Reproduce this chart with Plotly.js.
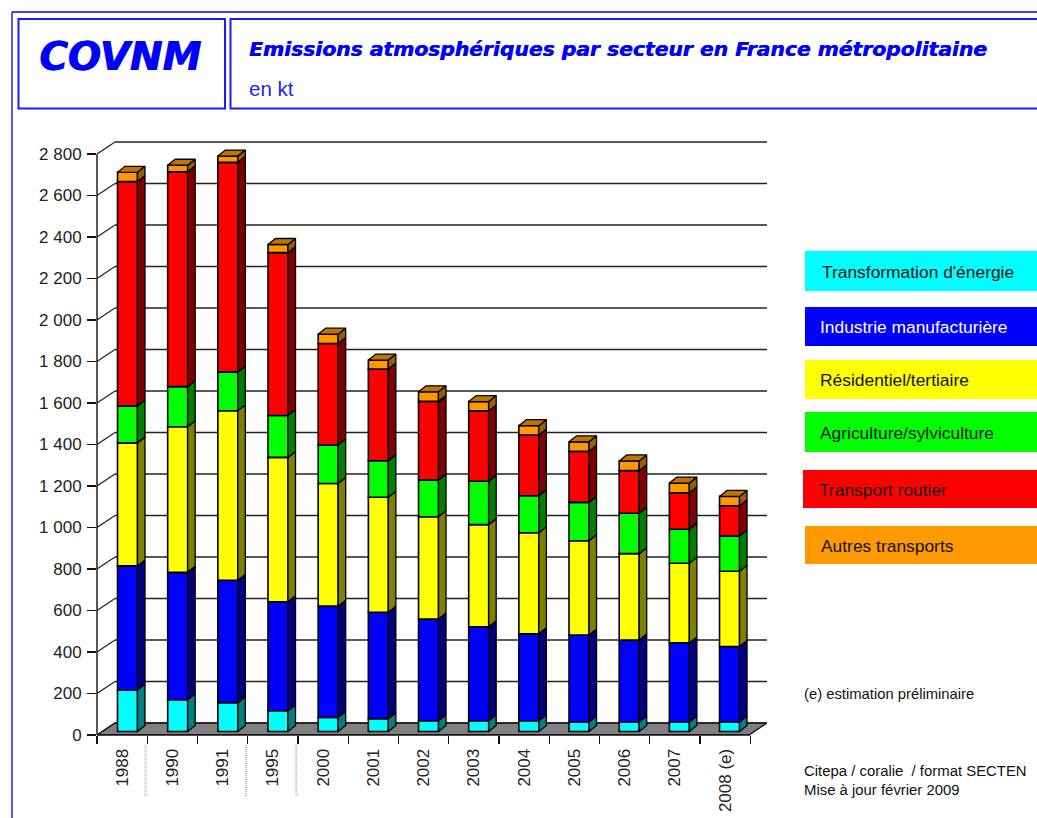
<!DOCTYPE html>
<html>
<head>
<meta charset="utf-8">
<script src="https://cdn.plot.ly/plotly-3.0.1.min.js"></script>
<style>html,body{margin:0;padding:0;background:#fff;overflow:hidden}</style>
</head>
<body>
<div id="chart" style="width:1037px;height:818px"></div>
<script>
const years = ["1988","1990","1991","1995","2000","2001","2002","2003","2004","2005","2006","2007","2008 (e)"];
const energie   = [200,153,139,100,68,62,52,52,52,46,46,46,46];
const industrie = [598,614,590,525,536,513,490,453,419,419,395,381,363];
const residentiel = [593,702,817,696,591,554,493,492,487,454,416,384,363];
const agriculture = [178,193,186,202,186,176,177,209,178,185,195,164,170];
const routier   = [1081,1035,1011,785,489,442,379,339,293,246,205,175,146];
const autres    = [45,32,30,39,45,43,46,45,45,46,47,47,45];
const yTicks = [0,200,400,600,800,1000,1200,1400,1600,1800,2000,2200,2400,2600,2800];
const yTickText = ["0","200","400","600","800","1 000","1 200","1 400","1 600","1 800","2 000","2 200","2 400","2 600","2 800"];
const sectorNames = ["Transformation d'énergie","Industrie manufacturière","Résidentiel/tertiaire","Agriculture/sylviculture","Transport routier","Autres transports"];
const sectorValues = [energie,industrie,residentiel,agriculture,routier,autres];
const frontColors = ["#00ffff","#0000ff","#ffff00","#00ff00","#ff0000","#ff9900"];
const sideColors  = ["#008080","#000080","#808000","#008000","#800000","#996000"];
const topColor = "#bf7400";

// page geometry
const W = 1037, H = 818, L = 97, PW = 670, T = 133, PH = 602;
const pxPerCat = 50.25, pxPerKt = 0.2075;
const xr = [-0.5, -0.5 + PW / pxPerCat], yr = [0, PH / pxPerKt];
const px = v => (v - L) / PW;
const py = v => (T + PH - v) / PH;
const wallDx = 18 / pxPerCat, wallDy = 12 / pxPerKt;
const barDx = 7.5 / pxPerCat, barDy = 6 / pxPerKt;
const barW = 20 / pxPerCat, barShift = 0.107, barStep = 0.9984, barBase = 3.5 / pxPerKt;
const idx = years.map((_, i) => i);
const barX = idx.map(i => i * barStep + barShift);

const traces = [];
const sides = [];
let cum = years.map(() => barBase);
sectorValues.forEach((vals, s) => {
  const base = cum.slice();
  traces.push({type:'bar', name:sectorNames[s], x:barX, y:vals, base:base, width:barW,
    marker:{color:frontColors[s], line:{color:'#000', width:1.6}}, hoverinfo:'name+y', showlegend:false});
  const sx = [], sy = [];
  idx.forEach(i => {
    const r = barX[i] + barW / 2, b = base[i], t = b + vals[i];
    sx.push(r, r + barDx, r + barDx, r, r, null);
    sy.push(b, b + barDy, t + barDy, t, b, null);
  });
  sides.push({type:'scatter', mode:'lines', x:sx, y:sy, fill:'toself', fillcolor:sideColors[s],
    line:{color:'#000', width:1.3}, hoverinfo:'skip', showlegend:false});
  cum = cum.map((c, i) => c + vals[i]);
});
const tx = [], ty = [];
idx.forEach(i => {
  const l = barX[i] - barW / 2, r = barX[i] + barW / 2, t = cum[i];
  tx.push(l, r, r + barDx, l + barDx, l, null);
  ty.push(t, t, t + barDy, t + barDy, t, null);
});
sides.push({type:'scatter', mode:'lines', x:tx, y:ty, fill:'toself', fillcolor:topColor,
  line:{color:'#000', width:1.3}, hoverinfo:'skip', showlegend:false});

const shapes = [];
// floor
shapes.push({type:'path', layer:'below', xref:'x', yref:'y',
  path:`M ${xr[0]} 0 L ${xr[0]+wallDx} ${wallDy} L ${xr[1]} ${wallDy} L ${xr[1]-wallDx} 0 Z`,
  fillcolor:'#808080', line:{color:'#111', width:1.4}});
// back wall grid and left-wall slants
yTicks.forEach(v => {
  shapes.push({type:'line', layer:'below', xref:'x', yref:'y', x0:xr[0]+wallDx, x1:xr[1], y0:v+wallDy, y1:v+wallDy,
    line:{color:'#222', width:1.4}});
  shapes.push({type:'line', layer:'below', xref:'x', yref:'y', x0:xr[0], x1:xr[0]+wallDx, y0:v, y1:v+wallDy,
    line:{color:'#222', width:1.2}});
});
// axis lines
shapes.push({type:'line', xref:'paper', yref:'y', x0:0, x1:0, y0:0, y1:2800, layer:'above', line:{color:'#111', width:1.4}});
shapes.push({type:'line', xref:'x', yref:'paper', x0:xr[0], x1:12.5, y0:0, y1:0, layer:'above', line:{color:'#111', width:1.6}});
// dotted separators below some ticks
[0.5, 2.5, 3.5].forEach(x => {
  shapes.push({type:'line', xref:'x', yref:'paper', x0:x-0.035, x1:x-0.035, y0:py(745), y1:py(796), line:{color:'#bbbbbb', width:2, dash:'1px,1px'}});
});
// frames
const blue = '#0000ff', blue2 = '#1a1aff';
shapes.push({type:'line', xref:'paper', yref:'paper', x0:px(12), x1:px(12), y0:py(12), y1:py(818), line:{color:blue, width:1.3}});
shapes.push({type:'line', xref:'paper', yref:'paper', x0:px(12), x1:px(1037), y0:py(12), y1:py(12), line:{color:blue, width:1.3}});
shapes.push({type:'rect', xref:'paper', yref:'paper', x0:px(18.5), x1:px(225), y0:py(19), y1:py(108.5), line:{color:blue2, width:2}});
shapes.push({type:'rect', xref:'paper', yref:'paper', x0:px(230.5), x1:px(1045), y0:py(19), y1:py(108.5), line:{color:blue2, width:2}});
// legend boxes
const legendTop  = [251,307,360,412,470,526];
const legendBot  = [291,346,399,452,508,564];
const legendLeft = [805,805,805,805,803,805];
const legendTextX = [820,818,818,818,817,819];
const legendTextColor = ['#111','#fff','#111','#111','#111','#111'];
const annotations = [];
const note = (x, y, text, font, anchor) => annotations.push({xref:'paper', yref:'paper', x:px(x), y:py(y), text:text, showarrow:false,
  xanchor:anchor||'left', yanchor:'middle', align:'left', font:font});
sectorNames.forEach((n, i) => {
  shapes.push({type:'rect', xref:'paper', yref:'paper', x0:px(legendLeft[i]), x1:px(1037), y0:py(legendTop[i]), y1:py(legendBot[i]),
    fillcolor:frontColors[i], line:{width:0}});
  note(legendTextX[i], (legendTop[i]+legendBot[i])/2 + 0.5, n, {family:'Liberation Sans', size:17.4, color:legendTextColor[i]});
});
note(37, 56, 'COVNM', {family:'DejaVu Sans', size:39, color:'#0000ff', weight:'bold', style:'italic', shadow:'1px 0 0 #0000ff'});
note(247, 49, 'Emissions atmosphériques par secteur en France métropolitaine', {family:'DejaVu Sans', size:20.3, color:'#0000ff', weight:'bold', style:'italic', shadow:'0.6px 0 0 #0000ff'});
note(247, 89, 'en kt', {family:'Liberation Sans', size:20.5, color:'#2222ff'});
note(802, 694, '(e) estimation préliminaire', {family:'Liberation Sans', size:14.8, color:'#111'});
note(802, 771, 'Citepa / coralie  / format SECTEN', {family:'Liberation Sans', size:14.9, color:'#111'});
note(802, 790, 'Mise à jour février 2009', {family:'Liberation Sans', size:14.9, color:'#111'});

const layout = {
  width:W, height:H, autosize:false,
  margin:{l:L, r:W-L-PW, t:T, b:H-T-PH, pad:0},
  paper_bgcolor:'#fff', plot_bgcolor:'#fff',
  barmode:'overlay', showlegend:false, hovermode:'closest',
  font:{family:'Liberation Sans', color:'#222'},
  xaxis:{type:'linear', range:xr, tickmode:'array', tickvals:idx, ticktext:years, tickangle:-90,
    ticks:'outside', ticklen:6, tickcolor:'rgba(0,0,0,0)', showgrid:false, zeroline:false, showline:false,
    tickfont:{family:'Liberation Sans', size:17, color:'#222'},
    minor:{tick0:-0.5, dtick:1, ticks:'outside', ticklen:8, tickwidth:1.3, tickcolor:'#111', showgrid:false}},
  yaxis:{type:'linear', range:yr, tickmode:'array', tickvals:yTicks, ticktext:yTickText,
    ticks:'outside', ticklen:9, tickwidth:1.3, tickcolor:'#111', showgrid:false, zeroline:false, showline:false,
    ticklabelstandoff:2,
    tickfont:{family:'Liberation Sans', size:17, color:'#222'}},
  shapes:shapes, annotations:annotations
};
Plotly.newPlot('chart', traces.concat(sides), layout, {displayModeBar:false, staticPlot:true});
</script>
</body>
</html>
